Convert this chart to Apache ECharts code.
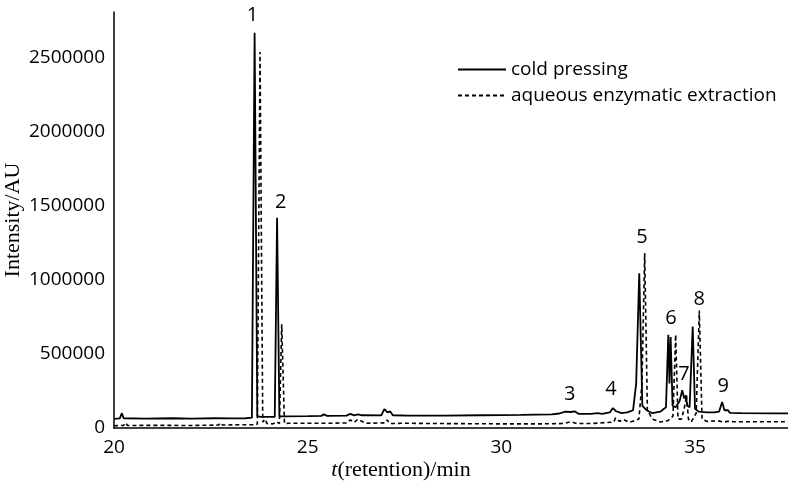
<!DOCTYPE html>
<html>
<head>
<meta charset="utf-8">
<title>Chromatogram</title>
<script src="https://cdn.jsdelivr.net/npm/echarts@6/dist/echarts.min.js"></script>
<style>
  html, body { margin: 0; padding: 0; background: #fff; }
  #chart { width: 788px; height: 483px; }
</style>
</head>
<body>
<div id="chart"></div>
<script>
  // retention time (min), intensity (AU)
  var coldPressing = [
    [20.0, 62000], [20.15, 65000], [20.2, 100000], [20.25, 66000], [20.8, 64000],
    [21.5, 66000], [22.0, 64000], [22.6, 66000], [23.0, 65000], [23.4, 66000],
    [23.56, 70000], [23.63, 2670000], [23.70, 80000], [23.78, 75000], [23.9, 75000],
    [24.15, 76000], [24.21, 1420000], [24.27, 78000], [24.4, 78000], [25.0, 80000],
    [25.35, 82000], [25.42, 92000], [25.5, 82000], [26.0, 84000], [26.1, 95000],
    [26.2, 85000], [26.3, 92000], [26.4, 86000], [26.9, 85000], [26.98, 128000],
    [27.06, 105000], [27.13, 112000], [27.2, 86000], [27.6, 84000], [27.65, 88000],
    [27.7, 84000], [28.5, 84000], [29.5, 86000], [30.5, 88000], [31.3, 92000],
    [31.5, 98000], [31.65, 110000], [31.8, 108000], [31.9, 112000], [32.0, 95000],
    [32.3, 96000], [32.5, 100000], [32.6, 95000], [32.8, 105000], [32.88, 135000],
    [32.95, 115000], [33.0, 120000], [33.1, 100000], [33.25, 105000], [33.4, 120000],
    [33.48, 300000], [33.56, 1045000], [33.64, 150000], [33.75, 120000], [33.9, 100000],
    [34.1, 110000], [34.25, 140000], [34.31, 630000], [34.34, 300000], [34.37, 615000],
    [34.42, 150000], [34.5, 140000], [34.6, 180000], [34.67, 256000], [34.72, 200000],
    [34.76, 220000], [34.8, 150000], [34.86, 140000], [34.94, 686000], [35.0, 130000],
    [35.1, 110000], [35.3, 105000], [35.5, 105000], [35.62, 110000], [35.7, 175000],
    [35.76, 120000], [35.8, 110000], [35.85, 120000], [35.9, 102000], [36.2, 100000],
    [37.0, 99000], [37.4, 99000]
  ];

  var aqueousEnzymatic = [
    [20.0, 15000], [20.25, 18000], [20.3, 35000], [20.35, 17000], [21.0, 18000],
    [22.0, 17000], [22.7, 20000], [22.75, 35000], [22.8, 20000], [23.3, 22000],
    [23.6, 22000], [23.7, 25000], [23.77, 2540000], [23.84, 40000], [23.9, 60000],
    [23.95, 30000], [24.1, 28000], [24.2, 42000], [24.27, 30000], [24.33, 700000],
    [24.4, 30000], [24.5, 32000], [25.5, 32000], [26.0, 34000], [26.1, 55000],
    [26.2, 38000], [26.3, 60000], [26.4, 45000], [26.5, 32000], [27.0, 35000],
    [27.05, 55000], [27.12, 30000], [27.5, 32000], [28.5, 30000], [30.0, 28000],
    [31.0, 28000], [31.6, 30000], [31.8, 42000], [31.95, 30000], [32.3, 30000],
    [32.9, 40000], [32.95, 68000], [33.05, 45000], [33.15, 58000], [33.3, 38000],
    [33.45, 50000], [33.55, 60000], [33.63, 300000], [33.70, 1182000], [33.77, 120000],
    [33.9, 60000], [34.1, 40000], [34.3, 50000], [34.43, 80000], [34.50, 630000],
    [34.56, 60000], [34.65, 60000], [34.72, 130000], [34.78, 222000], [34.83, 60000],
    [34.9, 40000], [35.03, 100000], [35.11, 794000], [35.18, 60000], [35.3, 45000],
    [35.6, 48000], [35.75, 40000], [35.85, 45000], [36.0, 42000], [37.4, 42000]
  ];

  // peak numbers and where they sit
  var peakNames = ["1", "2", "3", "4", "5", "6", "7", "8", "9"];
  var peakTimes = [23.59, 24.32, 31.78, 32.84, 33.64, 34.39, 34.73, 35.12, 35.74];
  var peakLabelY = [2786000, 1521000, 222000, 256000, 1285000, 740000, 357000, 868000, 276000];

  var xTicks = { min: 20, max: 37.4, interval: 5 };
  var yTicks = { min: 0, max: 2810000, interval: 500000 };

  var peakData = peakNames.map(function (n, i) {
    return { name: n, value: [peakTimes[i], peakLabelY[i]] };
  });

  var sans = "'Open Sans', 'Noto Sans', sans-serif";
  var serif = "'Liberation Serif', 'DejaVu Serif', serif";

  var chart = echarts.init(document.getElementById("chart"));
  chart.setOption({
    animation: false,
    backgroundColor: "#fff",
    grid: { left: 114, right: 0, top: 12, bottom: 55, containLabel: false, outerBoundsMode: "none" },
    legend: {
      data: ["cold pressing", "aqueous enzymatic extraction"],
      orient: "vertical",
      left: 457,
      top: 60,
      padding: 0,
      itemWidth: 48,
      itemHeight: 14,
      itemGap: 7,
      itemStyle: { opacity: 0 },
      textStyle: { fontFamily: sans, fontSize: 19, color: "#000" }
    },
    xAxis: {
      type: "value",
      min: xTicks.min,
      max: xTicks.max,
      interval: xTicks.interval,
      name: "{i|t}(retention)/min",
      nameLocation: "middle",
      nameGap: 31,
      nameMoveOverlap: false,
      nameTextStyle: {
        fontFamily: serif, fontSize: 22, color: "#000", padding: [0, 100, 0, 0],
        rich: { i: { fontFamily: serif, fontSize: 22, fontStyle: "italic", color: "#000" } }
      },
      axisLine: { lineStyle: { color: "#000", width: 1.5 } },
      axisTick: { show: false },
      splitLine: { show: false },
      axisLabel: { color: "#000", fontFamily: sans, fontSize: 19, margin: 10, showMaxLabel: false }
    },
    yAxis: {
      type: "value",
      min: yTicks.min,
      max: yTicks.max,
      interval: yTicks.interval,
      name: "Intensity/AU",
      nameLocation: "middle",
      nameGap: 90,
      nameMoveOverlap: false,
      nameTextStyle: { fontFamily: serif, fontSize: 22, color: "#000" },
      axisLine: { show: true, lineStyle: { color: "#000", width: 1.5 } },
      axisTick: { show: false },
      splitLine: { show: false },
      axisLabel: {
        color: "#000", fontFamily: sans, fontSize: 19, margin: 9, showMaxLabel: false,
        formatter: function (v) { return String(v); }
      }
    },
    series: [
      {
        name: "cold pressing",
        type: "line",
        data: coldPressing,
        symbol: "none",
        lineStyle: { color: "#000", width: 1.8 },
        itemStyle: { color: "#000" },
        z: 3
      },
      {
        name: "aqueous enzymatic extraction",
        type: "line",
        data: aqueousEnzymatic,
        symbol: "none",
        lineStyle: { color: "#000", width: 1.6, type: [4, 3] },
        itemStyle: { color: "#000" },
        z: 2
      },
      {
        name: "peaks",
        type: "scatter",
        data: peakData,
        symbolSize: 1,
        itemStyle: { color: "rgba(0,0,0,0)" },
        silent: true,
        z: 5,
        label: {
          show: true,
          position: [0, 0],
          align: "center",
          verticalAlign: "middle",
          formatter: "{b}",
          fontFamily: sans,
          fontSize: 20,
          color: "#000",
          opacity: 1,
          textBorderWidth: 0
        }
      }
    ]
  });
</script>
</body>
</html>
